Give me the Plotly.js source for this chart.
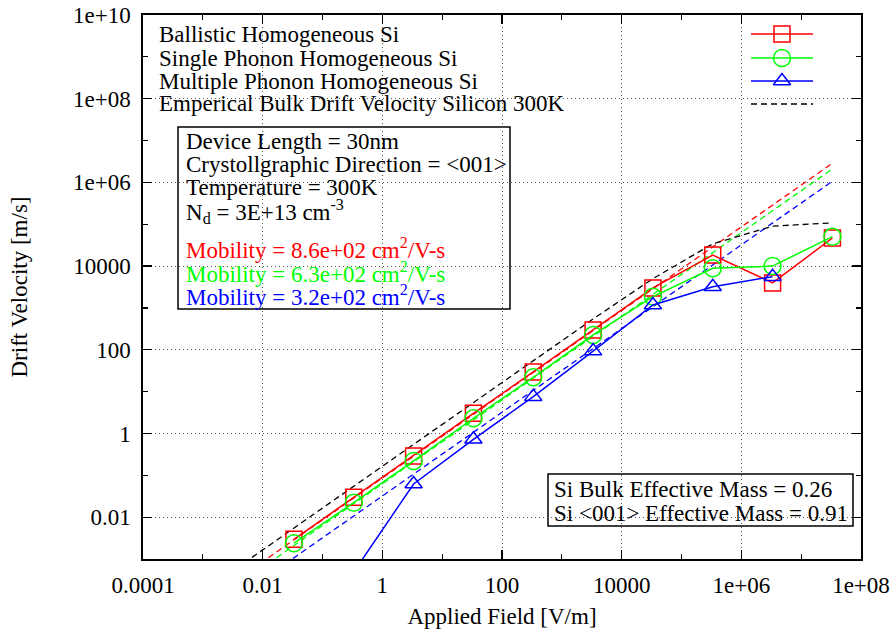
<!DOCTYPE html>
<html>
<head>
<meta charset="utf-8">
<script src="https://cdn.plot.ly/plotly-3.0.1.min.js"></script>
<style>html,body{margin:0;padding:0;background:#fff}#chart{width:896px;height:629px}</style>
</head>
<body>
<div id="chart"></div>
<script>
// ---------------- data ----------------
const fieldPts = [0.0333, 0.333, 3.33, 33.3, 333, 3330, 33300, 333000, 3330000, 33300000];
const ballisticV = [0.00295, 0.0299, 0.290, 3.03, 29.5, 297, 3000, 18400, 3950, 46900];
const singlePhononV = [0.00238, 0.0222, 0.220, 2.31, 22.0, 226, 1860, 8850, 10000, 50500];

const multiField = [0.333, 3.33, 33.3, 333, 3330, 33300, 333000, 3330000];
const multiPhononV = [0.00049, 0.0621, 0.726, 7.59, 93, 1175, 3220, 5580];

const empField = [0.001, 0.0333, 0.333, 3.33, 33.3, 333, 3330, 33300, 333000, 3330000, 30400000];
const empV = [0.000165, 0.0055, 0.055, 0.55, 5.5, 55, 545, 5000, 34000, 90000, 107000];

const fitField = [0.001, 33300000];
const fitBallistic = [0.000086, 2870000];
const fitSingle = [0.000063, 2100000];
const fitMulti = [0.000032, 1070000];

const xTickVals = [1e-4, 1e-2, 1, 1e2, 1e4, 1e6, 1e8];
const xTickText = ['0.0001', '0.01', '1', '100', '10000', '1e+06', '1e+08'];
const xMinorVals = [1e-3, 1e-1, 1e1, 1e3, 1e5, 1e7];
const yTickVals = [1e-2, 1, 1e2, 1e4, 1e6, 1e8, 1e10];
const yTickText = ['0.01', '1', '100', '10000', '1e+06', '1e+08', '1e+10'];
const yMinorVals = [1e-3, 1e-1, 1e1, 1e3, 1e5, 1e7, 1e9];

const seriesNames = ['Ballistic Homogeneous Si', 'Single Phonon Homogeneous Si',
  'Multiple Phonon Homogeneous Si', 'Emperical Bulk Drift Velocity Silicon 300K'];
const infoLines = ['Device Length = 30nm', 'Crystollgraphic Direction = &lt;001&gt;',
  'Temperature = 300K', 'N<sub>d</sub> = 3E+13 cm<sup>-3</sup>'];
const mobilityLines = ['Mobility = 8.6e+02 cm<sup>2</sup>/V-s', 'Mobility = 6.3e+02 cm<sup>2</sup>/V-s',
  'Mobility = 3.2e+02 cm<sup>2</sup>/V-s'];
const massLines = ['Si Bulk Effective Mass = 0.26', 'Si &lt;001&gt; Effective Mass = 0.91'];

// ---------------- styling ----------------
const RED = '#ff0000', GREEN = '#00ff00', BLUE = '#0000ff', BLACK = '#000000';
const FONT = 'Liberation Serif, Times New Roman, serif';
const FS = 23;
const DASH = '6px,4px';
const L = 143, R = 861, T = 15, B = 559;
const px = x => (x - L) / (R - L);
const py = y => (B - y) / (B - T);

const traces = [];
function fitLine(y, c) {
  return {x: fitField, y: y, mode: 'lines', line: {color: c, width: 1.3, dash: DASH},
          hoverinfo: 'skip', showlegend: false};
}
traces.push(fitLine(fitBallistic, RED));
traces.push(fitLine(fitSingle, GREEN));
traces.push(fitLine(fitMulti, BLUE));
traces.push({x: empField, y: empV, mode: 'lines', line: {color: BLACK, width: 1.3, dash: DASH},
  hoverinfo: 'skip', showlegend: false});

function dataTrace(x, y, c, sym, sz) {
  return {x: x, y: y, mode: 'lines+markers', line: {color: c, width: 1.5},
    marker: {symbol: sym, size: sz, color: c, line: {color: c, width: 1.5}},
    hoverinfo: 'skip', showlegend: false};
}
traces.push(dataTrace(fieldPts, ballisticV, RED, 'square-open', 16));
traces.push(dataTrace(fieldPts, singlePhononV, GREEN, 'circle-open', 17));
traces.push(dataTrace(multiField, multiPhononV, BLUE, 'triangle-up-open', 15));

// legend samples on an overlay (paper-like) axis pair
const legRows = [34, 58, 81, 104].map(py);
const legX = [px(751), px(813)];
const legMid = px(782);
const legColors = [RED, GREEN, BLUE, BLACK];
const legSyms = ['square-open', 'circle-open', 'triangle-up-open', null];
const legSizes = [16, 17, 15, 0];
for (let i = 0; i < 4; i++) {
  traces.push({x: legX, y: [legRows[i], legRows[i]], xaxis: 'x2', yaxis: 'y2', mode: 'lines',
    line: {color: legColors[i], width: i === 3 ? 1.3 : 1.5, dash: i === 3 ? DASH : 'solid'},
    hoverinfo: 'skip', showlegend: false});
  if (legSyms[i]) {
    traces.push({x: [legMid], y: [legRows[i]], xaxis: 'x2', yaxis: 'y2', mode: 'markers',
      marker: {symbol: legSyms[i], size: legSizes[i], color: legColors[i], line: {color: legColors[i], width: 1.5}},
      hoverinfo: 'skip', showlegend: false});
  }
}

const annotations = [];
function txt(text, x, y, color) {
  annotations.push({text: text, x: px(x), y: py(y), xref: 'paper', yref: 'paper',
    xanchor: 'left', yanchor: 'middle', showarrow: false,
    font: {family: FONT, size: FS, color: color || BLACK}});
}
const legTextY = [35, 58, 81, 104];
seriesNames.forEach((s, i) => txt(s, 157, legTextY[i]));
const infoY = [142, 164, 187, 211];
infoLines.forEach((s, i) => txt(s, 184, infoY[i]));
const mobY = [248, 272, 295];
const mobC = [RED, GREEN, BLUE];
mobilityLines.forEach((s, i) => txt(s, 184, mobY[i], mobC[i]));
const massY = [489, 513];
massLines.forEach((s, i) => txt(s, 552, massY[i]));

const shapes = [
  {type: 'rect', xref: 'paper', yref: 'paper', x0: px(143), x1: px(826), y0: py(113), y1: py(15),
   fillcolor: '#ffffff', line: {width: 0}, layer: 'between'},
  {type: 'rect', xref: 'paper', yref: 'paper', x0: px(178), x1: px(510), y0: py(309), y1: py(127),
   fillcolor: '#ffffff', line: {color: BLACK, width: 1.5}, layer: 'between'},
  {type: 'rect', xref: 'paper', yref: 'paper', x0: px(548), x1: px(853), y0: py(526), y1: py(474),
   fillcolor: '#ffffff', line: {color: BLACK, width: 1.5}, layer: 'between'}
];

const axisCommon = {
  type: 'log', showline: true, linecolor: BLACK, linewidth: 1.6, mirror: 'allticks',
  ticks: 'inside', ticklen: 9, tickwidth: 1.2, tickcolor: BLACK, tickmode: 'array',
  showgrid: true, gridcolor: '#555', griddash: '1px,3px', gridwidth: 1, zeroline: false,
  tickfont: {family: FONT, size: FS, color: BLACK}
};

const layout = {
  width: 896, height: 629,
  margin: {l: L, r: 896 - R, t: T, b: 629 - B},
  paper_bgcolor: '#ffffff', plot_bgcolor: '#ffffff',
  showlegend: false,
  xaxis: Object.assign({}, axisCommon, {
    range: [-4, 8], tickvals: xTickVals, ticktext: xTickText, ticklabelstandoff: 5,
    minor: {tickmode: 'array', tickvals: xMinorVals, ticks: 'inside', ticklen: 5, tickwidth: 1.2, tickcolor: BLACK, showgrid: false},
    title: {text: 'Applied Field [V/m]', font: {family: FONT, size: FS, color: BLACK}, standoff: 12}
  }),
  yaxis: Object.assign({}, axisCommon, {
    range: [-3, 10], tickvals: yTickVals, ticktext: yTickText, ticklabelstandoff: 6,
    minor: {tickmode: 'array', tickvals: yMinorVals, ticks: 'inside', ticklen: 5, tickwidth: 1.2, tickcolor: BLACK, showgrid: false},
    title: {text: 'Drift Velocity [m/s]', font: {family: FONT, size: FS, color: BLACK}, standoff: 39}
  }),
  xaxis2: {overlaying: 'x', range: [0, 1], visible: false, fixedrange: true},
  yaxis2: {overlaying: 'y', range: [0, 1], visible: false, fixedrange: true},
  shapes: shapes,
  annotations: annotations
};

Plotly.newPlot('chart', traces, layout, {displayModeBar: false, staticPlot: true});
</script>
</body>
</html>
